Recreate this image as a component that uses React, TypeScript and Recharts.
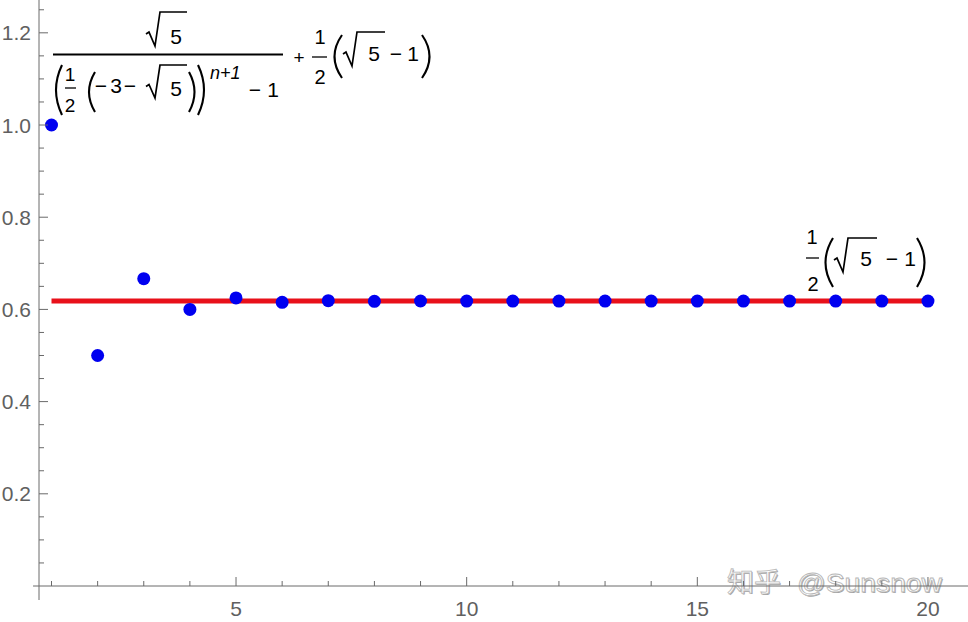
import React from 'react';
import { ComposedChart, XAxis, YAxis, Line, Scatter, ReferenceLine, Customized } from 'recharts';

// ---- data ----
const nValues = [1, 2, 3, 4, 5, 6, 7, 8, 9, 10, 11, 12, 13, 14, 15, 16, 17, 18, 19, 20];
const ratioValues = [1, 0.5, 0.6667, 0.6, 0.625, 0.6154, 0.619, 0.6176, 0.6182, 0.618, 0.618, 0.618, 0.618, 0.618, 0.618, 0.618, 0.618, 0.618, 0.618, 0.618];
const limitValue = 0.618;
const xTicks = [1, 2, 3, 4, 5, 6, 7, 8, 9, 10, 11, 12, 13, 14, 15, 16, 17, 18, 19, 20];
const xMajor = [5, 10, 15, 20];
const yTicks = [0.05, 0.1, 0.15, 0.2, 0.25, 0.3, 0.35, 0.4, 0.45, 0.5, 0.55, 0.6, 0.65, 0.7, 0.75, 0.8, 0.85, 0.9, 0.95, 1.0, 1.05, 1.1, 1.15, 1.2, 1.25];
const yMajor = [0.2, 0.4, 0.6, 0.8, 1.0, 1.2];
const xDomain = [0.729, 20.868];
const yDomain = [0, 1.2712];

const data = nValues.map((n, i) => ({ n, ratio: ratioValues[i], limit: limitValue }));

const AXIS = '#6a6a6a';
const LABEL = '#606060';
const FONT = '"Liberation Sans", Arial, sans-serif';

const isMajor = (list: number[], v: number) => list.some((m) => Math.abs(m - v) < 1e-6);

const XTick = (props: any) => {
  const { x, y, payload } = props;
  const major = isMajor(xMajor, payload.value);
  return (
    <g>
      <line x1={x} y1={y} x2={x} y2={y - (major ? 9 : 5)} stroke={AXIS} strokeWidth={1} />
      {major && (
        <text x={x} y={y + 30} textAnchor="middle" fontSize={21} fontFamily={FONT} fill={LABEL}>
          {payload.value}
        </text>
      )}
    </g>
  );
};

const YTick = (props: any) => {
  const { x, y, payload } = props;
  const major = isMajor(yMajor, payload.value);
  return (
    <g>
      <line x1={x} y1={y} x2={x + (major ? 9 : 5)} y2={y} stroke={AXIS} strokeWidth={1} />
      {major && (
        <text x={x - 8} y={y + 7.5} textAnchor="end" fontSize={21} fontFamily={FONT} fill={LABEL}>
          {payload.value.toFixed(1)}
        </text>
      )}
    </g>
  );
};

const T = (p: any) => (
  <text
    x={p.x}
    y={p.y}
    textAnchor={p.anchor || 'middle'}
    fontSize={p.size || 21}
    fontStyle={p.italic ? 'italic' : 'normal'}
    fontFamily={FONT}
    fill="#000"
  >
    {p.children}
  </text>
);

const Radical = ({ x0, top, bottom, end }: any) => {
  const mid = bottom - (bottom - top) * 0.38;
  return (
    <path
      d={`M${x0},${mid + 1} L${x0 + 3},${mid - 1} L${x0 + 9},${bottom} L${x0 + 14},${top} L${end},${top}`}
      fill="none"
      stroke="#000"
      strokeWidth={1.7}
      strokeLinejoin="miter"
    />
  );
};

const Paren = ({ x1, x2, top, bottom }: any) => {
  const midY = (top + bottom) / 2;
  const d = `M${x1},${top} Q${x2},${midY} ${x1},${bottom}`;
  return <path d={d} fill="none" stroke="#000" strokeWidth={2.1} />;
};

const HBar = ({ x1, x2, y, w }: any) => <line x1={x1} x2={x2} y1={y} y2={y} stroke="#000" strokeWidth={w || 1.5} />;

const Annotations = () => (
  <g>
    {/* Formula 1: numerator */}
    <Radical x0={146} top={12} bottom={46} end={187} />
    <T x={176} y={44}>5</T>
    <HBar x1={53} x2={283} y={54.5} w={1.9} />
    {/* denominator */}
    <Paren x1={62} x2={50} top={65} bottom={115} />
    <T x={70} y={81} size={19}>1</T>
    <HBar x1={65} x2={76} y={88} w={1.3} />
    <T x={70} y={112} size={19}>2</T>
    <Paren x1={95} x2={83} top={72} bottom={112} />
    <T x={101} y={93}>−</T>
    <T x={116} y={93}>3</T>
    <T x={130} y={93}>−</T>
    <Radical x0={146} top={65} bottom={98} end={187} />
    <T x={176} y={96}>5</T>
    <Paren x1={189} x2={200} top={72} bottom={112} />
    <Paren x1={198} x2={210} top={65} bottom={115} />
    <T x={210} y={79} size={18} italic anchor="start">n+1</T>
    <T x={255} y={97}>−</T>
    <T x={273} y={97}>1</T>
    {/* + 1/2 (sqrt5 - 1) */}
    <T x={299} y={64} size={19}>+</T>
    <T x={320} y={44} size={20}>1</T>
    <HBar x1={312} x2={327} y={57} w={1.3} />
    <T x={320} y={84} size={20}>2</T>
    <Paren x1={342} x2={327} top={35} bottom={78} />
    <Radical x0={343} top={32} bottom={66} end={385} />
    <T x={374} y={61}>5</T>
    <T x={396} y={61}>−</T>
    <T x={413} y={61}>1</T>
    <Paren x1={422} x2={437} top={35} bottom={78} />

    {/* Formula 2 */}
    <T x={812} y={244} size={20}>1</T>
    <HBar x1={806} x2={819} y={258} w={1.3} />
    <T x={813} y={291} size={20}>2</T>
    <Paren x1={833} x2={818} top={238} bottom={287} />
    <Radical x0={834} top={238} bottom={272} end={877} />
    <T x={866} y={266}>5</T>
    <T x={892} y={266}>−</T>
    <T x={910} y={266}>1</T>
    <Paren x1={917} x2={932} top={238} bottom={287} />

    {/* watermark */}
    <g opacity={0.9}>
      <text x={728} y={593} fontSize={27} fontFamily='"Noto Sans CJK SC", sans-serif' fill="#9a9a9a">知乎</text>
      <text x={798} y={593} fontSize={25} fontFamily={FONT} fill="#9a9a9a" textLength={145} lengthAdjust="spacingAndGlyphs">@Sunsnow</text>
      <text x={727} y={592} fontSize={27} fontFamily='"Noto Sans CJK SC", sans-serif' fill="#ffffff" stroke="#b0b0b0" strokeWidth={0.8}>知乎</text>
      <text x={797} y={592} fontSize={25} fontFamily={FONT} fill="#ffffff" stroke="#b0b0b0" strokeWidth={0.8} textLength={145} lengthAdjust="spacingAndGlyphs">@Sunsnow</text>
    </g>
  </g>
);

const Dot = (p: any) => <circle cx={p.cx} cy={p.cy} r={6.5} fill="#0000f0" />;

export default function App() {
  return (
    <div style={{ position: 'absolute', left: 0, top: 0, width: 968, height: 622, background: '#fff' }}>
      <ComposedChart width={968} height={622} data={data} margin={{ top: 0, right: 0, bottom: 0, left: 0 }}>
        <XAxis
          dataKey="n"
          type="number"
          domain={xDomain}
          allowDataOverflow
          ticks={xTicks}
          interval={0}
          height={36}
          tickSize={0}
          tickMargin={0}
          tickLine={false}
          tick={<XTick />}
          axisLine={{ stroke: AXIS, strokeWidth: 1 }}
        />
        <YAxis
          type="number"
          domain={yDomain}
          allowDataOverflow
          ticks={yTicks}
          interval={0}
          width={39}
          tickSize={0}
          tickMargin={0}
          tickLine={false}
          tick={<YTick />}
          axisLine={{ stroke: AXIS, strokeWidth: 1 }}
        />
        <ReferenceLine
          segment={[{ x: xDomain[0], y: -0.0304 }, { x: xDomain[0], y: 0 }]}
          stroke={AXIS}
          strokeWidth={1}
          ifOverflow="visible"
        />
        <ReferenceLine
          segment={[{ x: 0.6, y: 0 }, { x: xDomain[0], y: 0 }]}
          stroke={AXIS}
          strokeWidth={1}
          ifOverflow="visible"
        />
        <Line dataKey="limit" type="linear" stroke="#e8101a" strokeWidth={5} dot={false} isAnimationActive={false} />
        <Scatter dataKey="ratio" fill="#0000f0" shape={<Dot />} isAnimationActive={false} />
        <Customized component={<Annotations />} />
      </ComposedChart>
    </div>
  );
}
